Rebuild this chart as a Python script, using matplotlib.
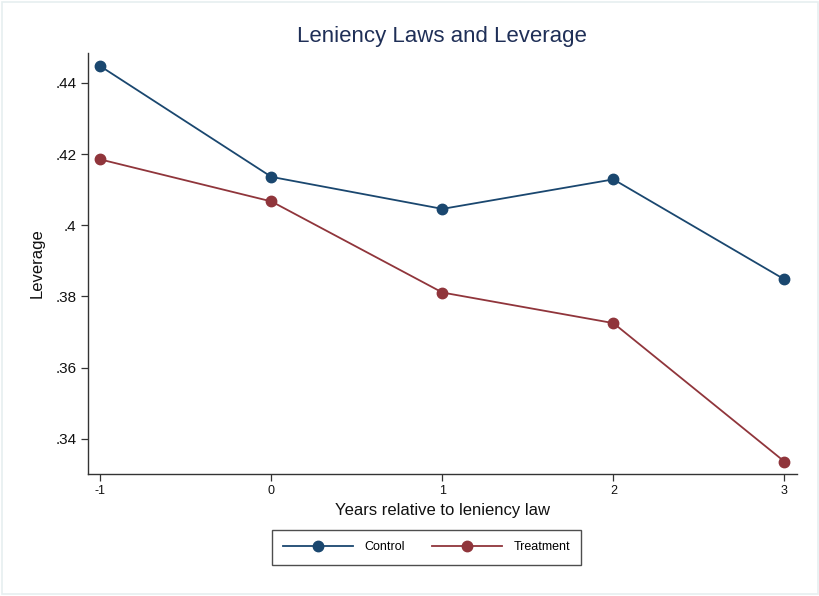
import matplotlib
matplotlib.use("Agg")
import matplotlib.pyplot as plt
from matplotlib.patches import Rectangle

# Mean leverage by event year
years = [-1, 0, 1, 2, 3]
control = [0.4447, 0.4136, 0.4046, 0.4129, 0.3848]
treatment = [0.4185, 0.4067, 0.3811, 0.3725, 0.3336]
ytick_vals = [0.34, 0.36, 0.38, 0.40, 0.42, 0.44]
ytick_labels = [".34", ".36", ".38", ".4", ".42", ".44"]
xtick_labels = ["-1", "0", "1", "2", "3"]

plt.rcParams["font.family"] = ["Liberation Sans", "DejaVu Sans"]

fig = plt.figure(figsize=(8.2, 5.96), dpi=100)
fig.patch.set_facecolor("white")
fig.add_artist(Rectangle((2.5 / 820, 2.5 / 596), 816 / 820, 592 / 596,
                         transform=fig.transFigure, fill=False,
                         edgecolor="#e6eff0", linewidth=1.2))

ax = fig.add_axes([0.107, 0.2047, 0.8646, 0.7069])
navy = "#1a476f"
maroon = "#90353b"
l1, = ax.plot(years, control, color=navy, lw=1.3, marker="o", ms=7.5,
              label="Control")
l2, = ax.plot(years, treatment, color=maroon, lw=1.3, marker="o", ms=7.5,
              label="Treatment")

ax.set_xlim(-1.074, 3.072)
ax.set_ylim(0.3301, 0.4485)
ax.set_xticks(years)
ax.set_xticklabels(xtick_labels, fontsize=9)
ax.set_yticks(ytick_vals)
ax.set_yticklabels(ytick_labels, fontsize=11)
for s in ("top", "right"):
    ax.spines[s].set_visible(False)
for s in ("left", "bottom"):
    ax.spines[s].set_color("#333333")
    ax.spines[s].set_linewidth(1.0)
ax.tick_params(axis="both", length=5, width=0.9, color="#333333",
               labelcolor="#111111", pad=3)

ax.set_xlabel("Years relative to leniency law", fontsize=12, color="#111111",
              labelpad=4)
ax.set_ylabel("Leverage", fontsize=12, color="#111111", labelpad=8)
fig.text(0.539, 0.938, "Leniency Laws and Leverage", ha="center",
         va="center", fontsize=16, color="#1f2f57")

leg = fig.legend(handles=[l1, l2], loc="center",
                 bbox_to_anchor=(426.5 / 820, 1 - 547.5 / 596), ncol=2,
                 fontsize=9, frameon=True, fancybox=False, handlelength=5.6,
                 handletextpad=0.9, columnspacing=2.2, borderpad=0.9,
                 edgecolor="#222222")
leg.get_frame().set_linewidth(1.0)

fig.savefig("out.png", dpi=100, facecolor="white")
